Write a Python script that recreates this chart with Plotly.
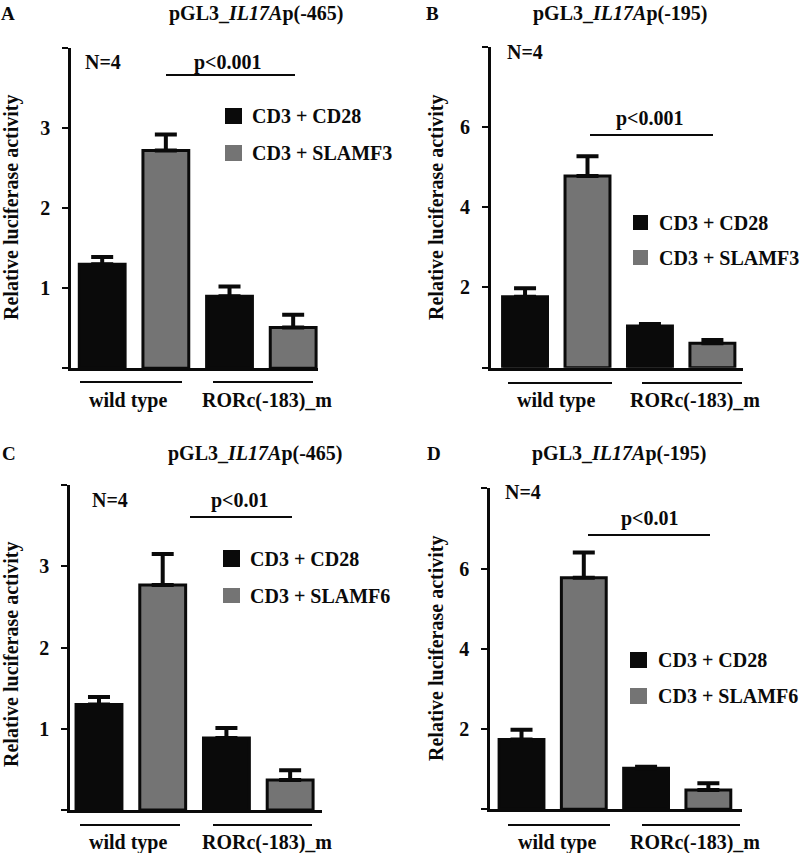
import plotly.graph_objects as go

# ---------------- data ----------------
groups = ["wild type", "RORc(-183)_m"]
series_names_top = ["CD3 + CD28", "CD3 + SLAMF3"]
series_names_bot = ["CD3 + CD28", "CD3 + SLAMF6"]

A_cd28 = [1.30, 0.90]
A_cd28_err = [0.09, 0.12]
A_slam = [2.72, 0.51]
A_slam_err = [0.20, 0.16]

B_cd28 = [1.77, 1.04]
B_cd28_err = [0.21, 0.05]
B_slam = [4.78, 0.61]
B_slam_err = [0.49, 0.08]

C_cd28 = [1.30, 0.885]
C_cd28_err = [0.09, 0.125]
C_slam = [2.77, 0.37]
C_slam_err = [0.38, 0.12]

D_cd28 = [1.74, 1.02]
D_cd28_err = [0.24, 0.04]
D_slam = [5.77, 0.48]
D_slam_err = [0.63, 0.17]

titles = ["pGL3_<i>IL17A</i>p(-465)", "pGL3_<i>IL17A</i>p(-195)",
          "pGL3_<i>IL17A</i>p(-465)", "pGL3_<i>IL17A</i>p(-195)"]
letters = ["A", "B", "C", "D"]
pvals = ["p<0.001", "p<0.001", "p<0.01", "p<0.01"]
ytick_A = [0, 1, 2, 3, 4]
ytick_B = [0, 2, 4, 6, 8]

# ---------------- layout helpers ----------------
W, H = 800, 853
FONT = "Liberation Serif"
BLACK = "#0a0a0a"
GRAY = "#747474"


def px(x):
    return x / W


def py(y):
    return 1 - y / H


panels = [
    dict(data=(A_cd28, A_cd28_err, A_slam, A_slam_err), names=series_names_top,
         xd=(71, 318), yd=(368.3, 48), xr=(-0.49, 3.39), yr=(0, 4), ticks=ytick_A,
         title=(256, 13), letter=(8, 13), ytitle=(12, 208),
         N=(103, 62), p=(228, 62), pline=(166, 295, 75),
         leg=(225, 242, [(108, 124), (145, 161)], 250),
         glines=[(80, 182), (213, 313)], gy=382, glab=[128, 267], gly=400),
    dict(data=(B_cd28, B_cd28_err, B_slam, B_slam_err), names=series_names_top,
         xd=(490.7, 743), yd=(367.7, 46.7), xr=(-0.55, 3.49), yr=(0, 8), ticks=ytick_B,
         title=(620, 13), letter=(432, 13), ytitle=(437, 208),
         N=(525, 52), p=(650, 118), pline=(590, 713, 135),
         leg=(633, 648, [(215, 230), (250, 265)], 657),
         glines=[(508, 612), (642, 742)], gy=383, glab=[556, 695], gly=400),
    dict(data=(C_cd28, C_cd28_err, C_slam, C_slam_err), names=series_names_bot,
         xd=(70, 322), yd=(810, 485), xr=(-0.455, 3.5), yr=(0, 4), ticks=ytick_A,
         title=(255, 453), letter=(9, 453), ytitle=(11, 655),
         N=(110, 500), p=(240, 500), pline=(190, 292, 517),
         leg=(223, 240, [(550, 567), (588, 603)], 248),
         glines=[(80, 180), (213, 312)], gy=825, glab=[128, 267], gly=842),
    dict(data=(D_cd28, D_cd28_err, D_slam, D_slam_err), names=series_names_bot,
         xd=(490, 742), yd=(809.3, 488.3), xr=(-0.506, 3.54), yr=(0, 8), ticks=ytick_B,
         title=(619, 453), letter=(434, 453), ytitle=(436, 649),
         N=(523, 492), p=(650, 518), pline=(588, 710, 535),
         leg=(630, 647, [(652, 668), (688, 704)], 656),
         glines=[(508, 610), (642, 740)], gy=825, glab=[557, 695], gly=842),
]

fig = go.Figure()
annotations = []
shapes = []

BAR_W = 0.72
for k, pn in enumerate(panels):
    sfx = "" if k == 0 else str(k + 1)
    xa, ya = "x" + sfx, "y" + sfx
    cd28, cd28_err, slam, slam_err = pn["data"]
    x_cd28 = [2 * i for i in range(len(groups))]
    x_slam = [2 * i + 1 for i in range(len(groups))]
    fig.add_trace(go.Bar(
        x=x_cd28, y=cd28, width=BAR_W, name=pn["names"][0], xaxis=xa, yaxis=ya,
        marker=dict(color=BLACK, line=dict(color=BLACK, width=3)),
        error_y=dict(type="data", symmetric=False, array=cd28_err,
                     arrayminus=[0] * len(cd28), thickness=4, width=11, color=BLACK),
        showlegend=False))
    fig.add_trace(go.Bar(
        x=x_slam, y=slam, width=BAR_W, name=pn["names"][1], xaxis=xa, yaxis=ya,
        marker=dict(color=GRAY, line=dict(color=BLACK, width=3)),
        error_y=dict(type="data", symmetric=False, array=slam_err,
                     arrayminus=[0] * len(slam), thickness=4, width=11, color=BLACK),
        showlegend=False))

    ticks = pn["ticks"]
    ticktext = [""] + [str(t) for t in ticks[1:-1]] + [""]
    fig.layout["xaxis" + sfx] = dict(
        domain=[px(pn["xd"][0]), px(pn["xd"][1])], range=list(pn["xr"]),
        anchor=ya, showgrid=False, zeroline=False, showticklabels=False,
        ticks="", showline=True, linecolor=BLACK, linewidth=2.5, fixedrange=True)
    fig.layout["yaxis" + sfx] = dict(
        domain=[py(pn["yd"][0]), py(pn["yd"][1])], range=list(pn["yr"]),
        anchor=xa, showgrid=False, zeroline=False, showline=True,
        linecolor=BLACK, linewidth=2.5, ticks="outside", ticklen=6, tickwidth=2,
        tickcolor=BLACK, tickvals=ticks, ticktext=ticktext, ticklabelstandoff=8,
        tickfont=dict(family=FONT, size=20, color=BLACK, weight="bold"),
        fixedrange=True)

    def ann(text, x, y, size=20, xanchor="center", angle=0):
        annotations.append(dict(
            text=text, x=px(x), y=py(y), xref="paper", yref="paper",
            xanchor=xanchor, yanchor="middle", showarrow=False, textangle=angle,
            font=dict(family=FONT, size=size, color=BLACK, weight="bold")))

    ann("<b>" + titles[k] + "</b>", pn["title"][0], pn["title"][1], size=20)
    ann("<b>" + letters[k] + "</b>", pn["letter"][0], pn["letter"][1], size=19)
    ann("<b>Relative luciferase activity</b>", pn["ytitle"][0], pn["ytitle"][1], angle=-90)
    ann("<b>N=4</b>", pn["N"][0], pn["N"][1])
    ann("<b>" + pvals[k] + "</b>", pn["p"][0], pn["p"][1])
    x0, x1, yl = pn["pline"]
    shapes.append(dict(type="line", xref="paper", yref="paper", x0=px(x0), x1=px(x1),
                       y0=py(yl), y1=py(yl), line=dict(color=BLACK, width=2)))
    lx0, lx1, rows, tx = pn["leg"]
    for j, (r0, r1) in enumerate(rows):
        shapes.append(dict(type="rect", xref="paper", yref="paper", x0=px(lx0), x1=px(lx1),
                           y0=py(r1), y1=py(r0), line=dict(width=0),
                           fillcolor=BLACK if j == 0 else GRAY))
        ann("<b>" + pn["names"][j] + "</b>", tx, (r0 + r1) / 2, xanchor="left")
    for j, (g0, g1) in enumerate(pn["glines"]):
        shapes.append(dict(type="line", xref="paper", yref="paper", x0=px(g0), x1=px(g1),
                           y0=py(pn["gy"]), y1=py(pn["gy"]), line=dict(color=BLACK, width=2)))
        ann("<b>" + groups[j] + "</b>", pn["glab"][j], pn["gly"])

fig.update_layout(
    width=W, height=H, margin=dict(l=0, r=0, t=0, b=0),
    paper_bgcolor="white", plot_bgcolor="white", barmode="overlay",
    annotations=annotations, shapes=shapes, showlegend=False, hovermode=False)

fig.write_html("out.html", config={"displayModeBar": False},
               post_script="document.body.style.margin='0';document.body.style.overflow='hidden';")
